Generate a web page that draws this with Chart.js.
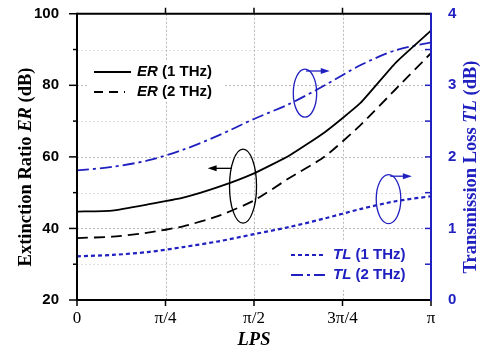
<!DOCTYPE html>
<html>
<head>
<meta charset="utf-8">
<script src="https://cdn.jsdelivr.net/npm/chart.js@4.4.1/dist/chart.umd.min.js"></script>
<style>
  html,body{margin:0;padding:0;background:#fff;}
  #wrap{width:482px;height:354px;}
</style>
</head>
<body>
<div id="wrap"><canvas id="c" width="482" height="354"></canvas></div>
<script>
// x positions in units of pi (LPS / pi)
const lps = [0, 0.1, 0.2, 0.3, 0.4, 0.5, 0.6, 0.7, 0.8, 0.9, 1.0];
const er1THz = [44.7, 45.0, 46.7, 48.6, 51.6, 55.4, 60.4, 66.9, 75.0, 86.3, 95.3];
const er2THz = [37.3, 37.7, 38.8, 40.6, 43.5, 47.8, 54.1, 60.1, 68.8, 78.9, 89.0];
const tl1THz = [0.61, 0.63, 0.67, 0.74, 0.82, 0.92, 1.02, 1.14, 1.27, 1.38, 1.45];
const tl2THz = [1.81, 1.86, 1.95, 2.10, 2.30, 2.53, 2.74, 3.00, 3.28, 3.49, 3.60];

const xTickValues = [0, 0.25, 0.5, 0.75, 1];
const xTickLabels = ['0', 'π/4', 'π/2', '3π/4', 'π'];
const erTickValues = [20, 40, 60, 80, 100];
const erMinorValues = [30, 50, 70, 90];
const tlTickValues = [0, 1, 2, 3, 4];
const tlMinorValues = [0.5, 1.5, 2.5, 3.5];

const BLUE = '#2020c0';
const SANS = "'Liberation Sans', Arial, sans-serif";
const SERIF = "'Liberation Serif', 'Times New Roman', serif";

function pts(arr){ return lps.map((x,i)=>({x:x, y:arr[i]})); }

function line(ctx,x1,y1,x2,y2){ ctx.beginPath(); ctx.moveTo(x1,y1); ctx.lineTo(x2,y2); ctx.stroke(); }

function drawMixed(ctx, parts, x, y, align, rotate, color){
  ctx.save();
  ctx.translate(x,y);
  if(rotate) ctx.rotate(rotate);
  ctx.textBaseline='middle';
  ctx.textAlign='left';
  ctx.fillStyle=color;
  let total=0;
  parts.forEach(p=>{ ctx.font=p[1]; total+=ctx.measureText(p[0]).width; });
  let cx = align==='center' ? -total/2 : 0;
  parts.forEach(p=>{ ctx.font=p[1]; ctx.fillText(p[0],cx,0); cx+=ctx.measureText(p[0]).width; });
  ctx.restore();
}

function arrow(ctx, x1, y1, x2, y2, color){
  ctx.save();
  ctx.strokeStyle=color; ctx.fillStyle=color; ctx.lineWidth=1.3; ctx.setLineDash([]);
  const dir = Math.sign(x2-x1);
  line(ctx,x1,y1,x2-dir*6,y2);
  ctx.beginPath();
  ctx.moveTo(x2,y2); ctx.lineTo(x2-dir*9,y2-3); ctx.lineTo(x2-dir*9,y2+3); ctx.closePath(); ctx.fill();
  ctx.restore();
}

const deco = {
  id:'deco',
  beforeDatasetsDraw(chart){
    const {ctx, chartArea:a, scales} = chart;
    const x=scales.x, y=scales.y;
    ctx.save();
    ctx.lineWidth=1;
    ctx.setLineDash([2,2]);
    erMinorValues.forEach(v=>{
      const py=Math.round(y.getPixelForValue(v))+0.5;
      ctx.strokeStyle='#dedede'; line(ctx,a.left,py,a.right,py);
    });
    erTickValues.forEach(v=>{
      if(v<=y.min||v>=y.max) return;
      const py=Math.round(y.getPixelForValue(v))+0.5;
      ctx.strokeStyle='#b8b8b8'; line(ctx,a.left,py,a.right,py);
    });
    xTickValues.forEach(v=>{
      if(v<=x.min||v>=x.max) return;
      const px=Math.round(x.getPixelForValue(v))+0.5;
      ctx.strokeStyle='#b8b8b8'; line(ctx,px,a.top,px,a.bottom);
    });
    ctx.setLineDash([]);
    // legend backgrounds
    ctx.fillStyle='#ffffff';
    ctx.fillRect(89,62,136,39);
    ctx.fillRect(280,242,150,48);
    ctx.restore();
  },
  afterDraw(chart){
    const {ctx, chartArea:a, scales} = chart;
    const x=scales.x, y=scales.y, y2=scales.y2;
    ctx.save();
    ctx.setLineDash([]);
    // ticks
    ctx.lineWidth=1.5;
    ctx.strokeStyle='#000';
    erTickValues.forEach(v=>{ const py=y.getPixelForValue(v); line(ctx,a.left-8,py,a.left,py); });
    erMinorValues.forEach(v=>{ const py=y.getPixelForValue(v); line(ctx,a.left-4,py,a.left+1,py); });
    xTickValues.forEach(v=>{
      const px=x.getPixelForValue(v);
      line(ctx,px,a.bottom,px,a.bottom+6);
      if(v>x.min && v<x.max) line(ctx,px,a.top,px,a.top-6);
    });
    ctx.strokeStyle=BLUE;
    tlTickValues.concat(tlMinorValues).forEach(v=>{ const py=y2.getPixelForValue(v); line(ctx,a.right-6,py,a.right,py); });
    // axes
    ctx.lineWidth=2;
    ctx.strokeStyle='#000';
    line(ctx,a.left,a.top,a.right,a.top);
    line(ctx,a.left,a.top-1,a.left,a.bottom+1);
    line(ctx,a.left-1,a.bottom,a.right,a.bottom);
    ctx.strokeStyle=BLUE;
    line(ctx,a.right,a.top-1,a.right,a.bottom+1);

    // ellipses + arrows
    ctx.lineWidth=1.3;
    ctx.strokeStyle='#000';
    ctx.beginPath(); ctx.ellipse(x.getPixelForValue(0.469), y.getPixelForValue(51.8), 13.5, 37, 0, 0, Math.PI*2); ctx.stroke();
    arrow(ctx, x.getPixelForValue(0.437), y.getPixelForValue(56.8), x.getPixelForValue(0.369), y.getPixelForValue(56.8), '#000');
    ctx.strokeStyle=BLUE;
    ctx.beginPath(); ctx.ellipse(x.getPixelForValue(0.644), y2.getPixelForValue(2.89), 11.7, 24, 0, 0, Math.PI*2); ctx.stroke();
    arrow(ctx, x.getPixelForValue(0.647), y2.getPixelForValue(3.20), x.getPixelForValue(0.714), y2.getPixelForValue(3.20), BLUE);
    ctx.strokeStyle=BLUE;
    ctx.beginPath(); ctx.ellipse(x.getPixelForValue(0.880), y2.getPixelForValue(1.41), 12.3, 24.5, 0, 0, Math.PI*2); ctx.stroke();
    arrow(ctx, x.getPixelForValue(0.885), y2.getPixelForValue(1.73), x.getPixelForValue(0.946), y2.getPixelForValue(1.73), BLUE);

    // legends
    const legFont = "bold 15px "+SANS, legIt = "italic bold 15px "+SANS;
    ctx.lineWidth=1.8; ctx.strokeStyle='#000';
    line(ctx,94,72,131,72);
    ctx.setLineDash([9,6]); line(ctx,94,92,125,92); ctx.setLineDash([]);
    drawMixed(ctx,[["ER",legIt],[" (1 THz)",legFont]],137,72,'left',0,'#000');
    drawMixed(ctx,[["ER",legIt],[" (2 THz)",legFont]],137,92,'left',0,'#000');
    ctx.strokeStyle=BLUE; ctx.lineWidth=2;
    ctx.setLineDash([4,3]); line(ctx,291,255,323,255);
    ctx.setLineDash([12,4,3,4]); line(ctx,291,275,325,275); ctx.setLineDash([]);
    drawMixed(ctx,[["TL",legIt],[" (1 THz)",legFont]],333,255,'left',0,BLUE);
    drawMixed(ctx,[["TL",legIt],[" (2 THz)",legFont]],333,275,'left',0,BLUE);

    // axis titles
    const tf="bold 18.5px "+SERIF, ti="italic bold 18.5px "+SERIF;
    drawMixed(ctx,[["Extinction Ratio ",tf],["ER",ti],[" (dB)",tf]],26,167,'center',-Math.PI/2,'#000');
    drawMixed(ctx,[["Transmission Loss ",tf],["TL",ti],[" (dB)",tf]],471,167,'center',-Math.PI/2,BLUE);
    drawMixed(ctx,[["LPS",ti]],(a.left+a.right)/2,340,'center',0,'#000');
    ctx.restore();
  }
};

new Chart(document.getElementById('c'), {
  type:'line',
  data:{
    datasets:[
      {label:'ER (1 THz)', data:pts(er1THz), yAxisID:'y', borderColor:'#000', borderWidth:1.8, pointRadius:0, tension:0.15},
      {label:'ER (2 THz)', data:pts(er2THz), yAxisID:'y', borderColor:'#000', borderWidth:1.8, borderDash:[11,6], pointRadius:0, tension:0.2},
      {label:'TL (1 THz)', data:pts(tl1THz), yAxisID:'y2', borderColor:BLUE, borderWidth:2.2, borderDash:[4,3], pointRadius:0, tension:0.3},
      {label:'TL (2 THz)', data:pts(tl2THz), yAxisID:'y2', borderColor:BLUE, borderWidth:1.8, borderDash:[12,4,3,4], pointRadius:0, tension:0.3}
    ]
  },
  options:{
    responsive:false,
    animation:false,
    layout:{padding:{top:13,left:0,right:0,bottom:0}},
    plugins:{legend:{display:false}, tooltip:{enabled:false}},
    scales:{
      x:{
        type:'linear', position:'bottom', min:0, max:1,
        afterBuildTicks(s){ s.ticks = xTickValues.map(v=>({value:v})); },
        ticks:{
          callback:(v)=>{ const i=xTickValues.indexOf(v); return i>=0?xTickLabels[i]:''; },
          font:{family:SERIF, size:17}, color:'#000', padding:0, maxRotation:0, autoSkip:false
        },
        grid:{display:false}, border:{display:false},
        afterFit(s){ s.height=54; }
      },
      y:{
        position:'left', min:20, max:100,
        ticks:{stepSize:10, callback:(v)=> (v%20===0 ? String(v) : ''), font:{family:SANS, size:15, weight:'bold', lineHeight:0.5}, color:'#000', padding:10, autoSkip:false},
        grid:{display:false}, border:{display:false},
        afterFit(s){ s.width=77; }
      },
      y2:{
        position:'right', min:0, max:4,
        ticks:{stepSize:0.5, callback:(v)=> (Number.isInteger(v) ? String(v) : ''), font:{family:SANS, size:15, weight:'bold', lineHeight:0.5}, color:BLUE, padding:9, autoSkip:false},
        grid:{display:false}, border:{display:false},
        afterFit(s){ s.width=51; }
      }
    }
  },
  plugins:[deco]
});
</script>
</body>
</html>
